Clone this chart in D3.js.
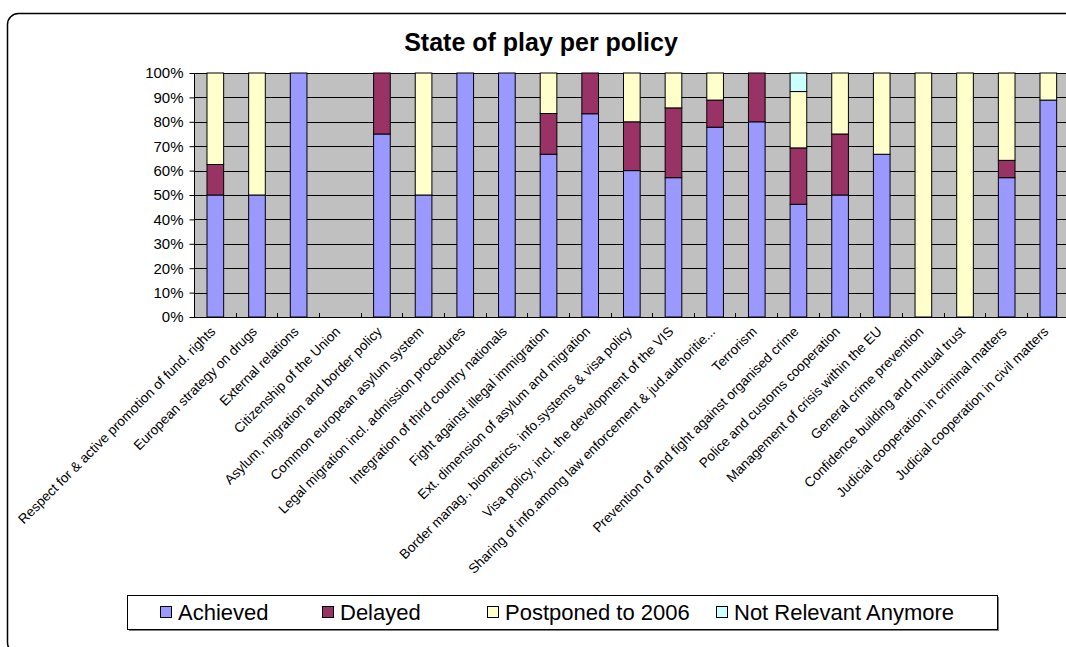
<!DOCTYPE html>
<html>
<head>
<meta charset="utf-8">
<script src="https://cdn.jsdelivr.net/npm/d3@7"></script>
<style>
  body { margin: 0; background: #fff; }
  svg { display: block; font-family: Arial, "Liberation Sans", sans-serif; }
</style>
</head>
<body>
<div id="chart"></div>
<script>
// policies on the x axis
var categories = [
  'Respect for & active promotion of fund. rights',
  'European strategy on drugs',
  'External relations',
  'Citizenship of the Union',
  'Asylum, migration and border policy',
  'Common european asylum system',
  'Legal migration incl. admission procedures',
  'Integration of third country nationals',
  'Fight against illegal immigration',
  'Ext. dimension of asylum and migration',
  'Border manag., biometrics, info.systems & visa policy',
  'Visa policy, incl. the development of the VIS',
  'Sharing of info.among law enforcement & jud.authoritie...',
  'Terrorism',
  'Prevention of and fight against organised crime',
  'Police and customs cooperation',
  'Management of crisis within the EU',
  'General crime prevention',
  'Confidence building and mutual trust',
  'Judicial cooperation in criminal matters',
  'Judicial cooperation in civil matters'
];

// share of measures per policy, in %
var achieved    = [50, 50, 100, 0, 75, 50, 100, 100, 66.7, 83.3, 60, 57.1, 77.8, 80, 46.2, 50, 66.7, 0, 0, 57.1, 88.9];
var delayed     = [12.5, 0, 0, 0, 25, 0, 0, 0, 16.7, 16.7, 20, 28.6, 11.1, 20, 23.1, 25, 0, 0, 0, 7.1, 0];
var postponed   = [37.5, 50, 0, 0, 0, 50, 0, 0, 16.6, 0, 20, 14.3, 11.1, 0, 23.1, 25, 33.3, 100, 100, 35.8, 11.1];
var notRelevant = [0, 0, 0, 0, 0, 0, 0, 0, 0, 0, 0, 0, 0, 0, 7.6, 0, 0, 0, 0, 0, 0];

var seriesNames = ['Achieved', 'Delayed', 'Postponed to 2006', 'Not Relevant Anymore'];
var seriesColors = ['#9999ff', '#993366', '#ffffcc', '#ccffff'];

var yTicks = [0, 10, 20, 30, 40, 50, 60, 70, 80, 90, 100];

(function()
{
  var W = 1066, H = 647,
      left = 194, top = 73, plotH = 244,
      step = 41.65,
      plotW = step * categories.length;

  var svg = d3.select('#chart')
    .append('svg')
      .attr('width', W)
      .attr('height', H);

  // outer chart frame
  svg.append('rect')
    .attr('x', 7.5).attr('y', 13.5)
    .attr('width', 1120).attr('height', 640)
    .attr('rx', 11)
    .attr('fill', '#fff')
    .attr('stroke', '#000')
    .attr('stroke-width', 1.5);

  svg.append('text')
    .attr('x', 541).attr('y', 51)
    .attr('text-anchor', 'middle')
    .style('font-weight', 'bold')
    .style('font-size', '25px')
    .text('State of play per policy');

  var x = d3.scaleBand()
    .domain(d3.range(categories.length))
    .range([left, left + plotW])
    .paddingInner(0.6)
    .paddingOuter(0.3);

  var y = d3.scaleLinear()
    .domain([0, 100])
    .range([top + plotH, top]);

  // plot area
  svg.append('rect')
    .attr('x', left).attr('y', top)
    .attr('width', plotW).attr('height', plotH)
    .attr('fill', '#c0c0c0');

  svg.append('g')
    .selectAll('line')
    .data(yTicks.slice(1))
    .enter()
      .append('line')
      .attr('x1', left).attr('x2', left + plotW)
      .attr('y1', function(d) { return Math.round(y(d)) + 0.5; })
      .attr('y2', function(d) { return Math.round(y(d)) + 0.5; })
      .attr('stroke', '#000')
      .attr('stroke-width', 1);

  // stack the series
  var rows = categories.map(function(c, i)
  {
    return { i: i, a: achieved[i], d: delayed[i], p: postponed[i], n: notRelevant[i] };
  });
  var stacked = d3.stack().keys(['a', 'd', 'p', 'n'])(rows);

  svg.append('g')
    .selectAll('g')
    .data(stacked)
    .enter()
      .append('g')
      .attr('fill', function(d, i) { return seriesColors[i]; })
      .selectAll('rect')
      .data(function(d) { return d.filter(function(s) { return s[1] - s[0] > 0; }); })
      .enter()
        .append('rect')
        .attr('x', function(d) { return x(d.data.i) + 0.5; })
        .attr('width', x.bandwidth())
        .attr('y', function(d) { return y(d[1]); })
        .attr('height', function(d) { return y(d[0]) - y(d[1]); })
        .attr('stroke', '#000')
        .attr('stroke-width', 1);

  // y axis
  var yAxis = d3.axisLeft(y)
    .tickValues(yTicks)
    .tickSize(5)
    .tickPadding(6)
    .tickFormat(function(d) { return d + '%'; });

  var gy = svg.append('g')
    .attr('transform', 'translate(' + (left + 0.5) + ',0)')
    .call(yAxis);
  gy.selectAll('text').style('font-size', '15px').attr('fill', '#000');
  gy.selectAll('line, path').attr('stroke', '#000');
  gy.select('.domain').attr('d', 'M0,' + top + 'V' + (top + plotH));

  // x axis line and inward ticks on the category boundaries
  var gx = svg.append('g');
  gx.append('line')
    .attr('x1', left).attr('x2', left + plotW)
    .attr('y1', top + plotH + 0.5).attr('y2', top + plotH + 0.5)
    .attr('stroke', '#000');
  gx.selectAll('line.tick')
    .data(d3.range(1, categories.length + 1))
    .enter()
      .append('line')
      .attr('class', 'tick')
      .attr('x1', function(d) { return Math.round(left + d * step) + 0.5; })
      .attr('x2', function(d) { return Math.round(left + d * step) + 0.5; })
      .attr('y1', top + plotH)
      .attr('y2', top + plotH - 4)
      .attr('stroke', '#000');

  gx.selectAll('text')
    .data(categories)
    .enter()
      .append('text')
      .attr('transform', function(d, i)
      {
        return 'translate(' + (x(i) + x.bandwidth() / 2 - 2) + ',' + (top + plotH + 12) + ') rotate(-45)';
      })
      .attr('text-anchor', 'end')
      .attr('dy', '0.35em')
      .style('font-size', '13.6px')
      .text(function(d) { return d; });

  // legend
  var legendX = [160, 322, 487, 716];
  svg.append('rect')
    .attr('x', 129).attr('y', 597)
    .attr('width', 870).attr('height', 34)
    .attr('fill', '#808080');
  svg.append('rect')
    .attr('x', 127.5).attr('y', 595.5)
    .attr('width', 870).attr('height', 34)
    .attr('fill', '#fff')
    .attr('stroke', '#000');

  var items = svg.append('g')
    .selectAll('g')
    .data(seriesNames)
    .enter()
      .append('g')
      .attr('transform', function(d, i) { return 'translate(' + legendX[i] + ',606)'; });
  items.append('rect')
    .attr('x', 0.5).attr('y', 0.5)
    .attr('width', 11).attr('height', 11)
    .attr('fill', function(d, i) { return seriesColors[i]; })
    .attr('stroke', '#000');
  items.append('text')
    .attr('x', 18).attr('y', 14)
    .style('font-size', '22px')
    .text(function(d) { return d; });
})();
</script>
</body>
</html>
